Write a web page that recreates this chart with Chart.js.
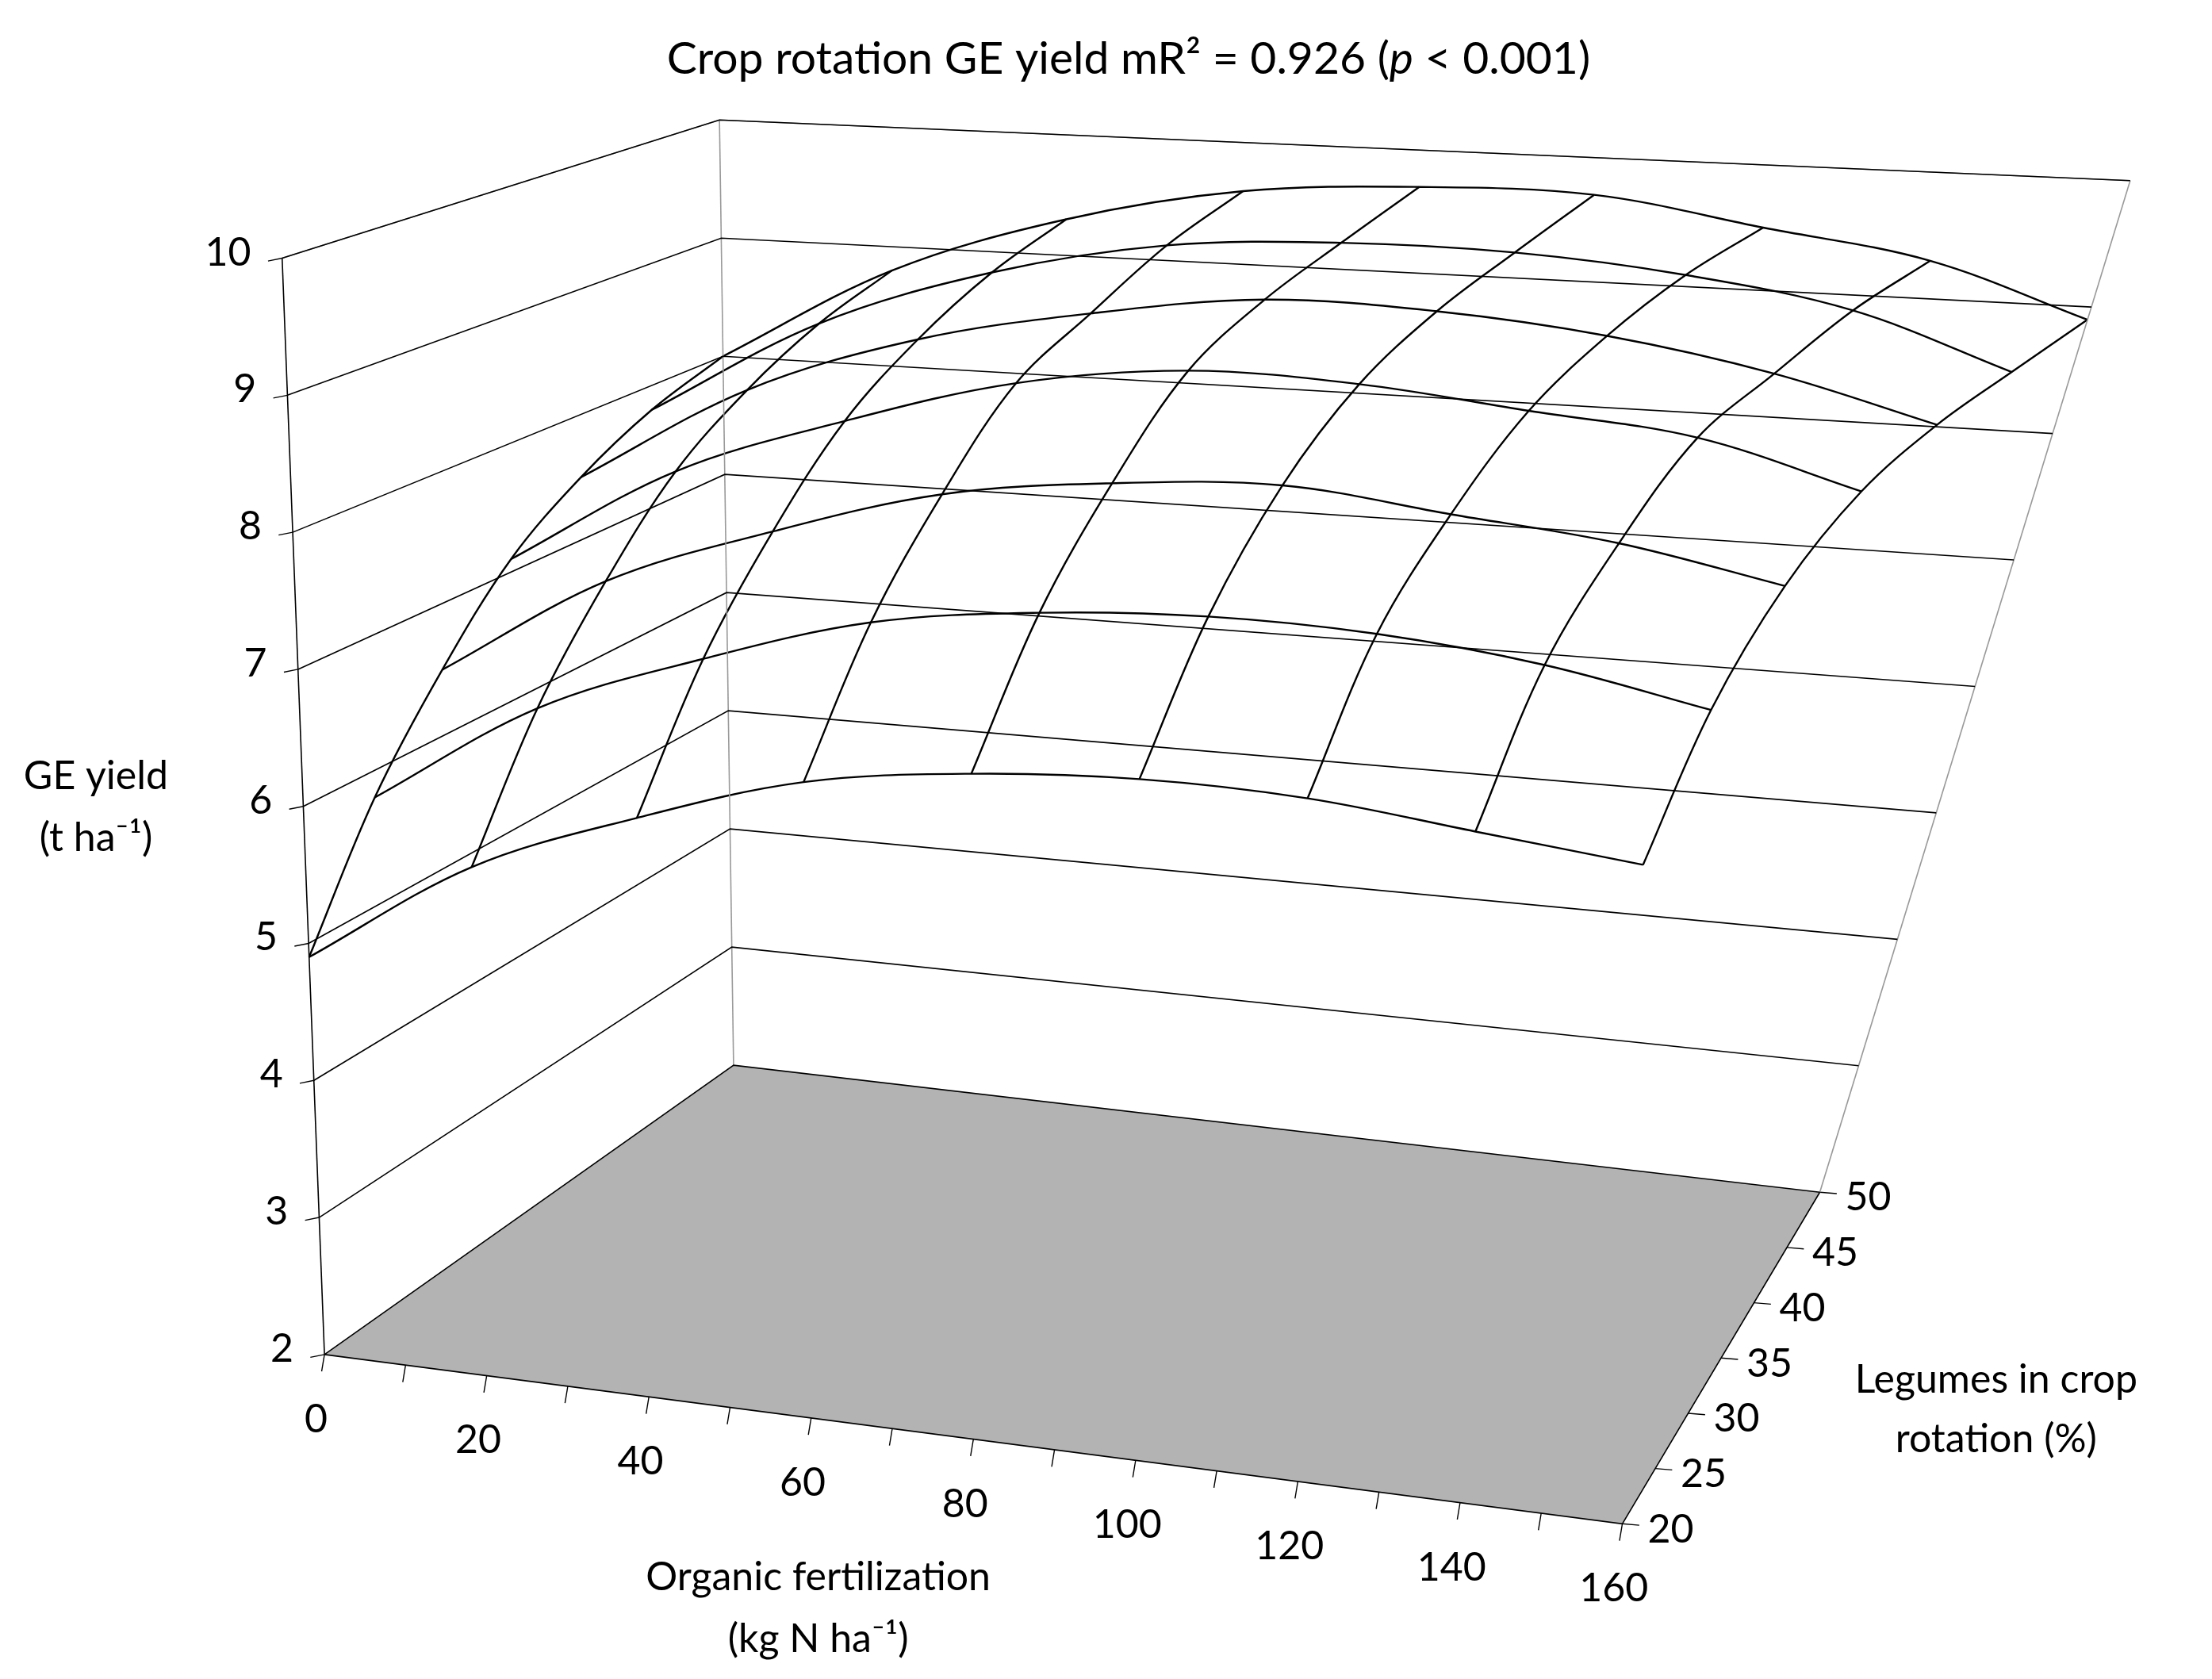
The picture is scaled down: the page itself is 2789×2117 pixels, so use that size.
<!DOCTYPE html>
<html>
<head>
<meta charset="utf-8">
<script src="https://cdn.jsdelivr.net/npm/chart.js@4"></script>
<style>
  html, body { margin: 0; padding: 0; background: #fff; }
  #wrap { width: 2789px; height: 2117px; }
</style>
</head>
<body>
<div id="wrap"><canvas id="grafico"></canvas></div>
<script>
// data
const fertilization = [0, 20, 40, 60, 80, 100, 120, 140, 160];
const legumes = [20, 25, 30, 35, 40, 45, 50];
// one row per legumes value, one column per fertilization value (t/ha)
const yieldRows = [
  [4.9, 5.7, 6.2, 6.6, 6.8, 6.9, 6.9, 6.8, 6.7],
  [5.8, 6.6, 7.1, 7.5, 7.7, 7.8, 7.8, 7.7, 7.5],
  [6.5, 7.3, 7.8, 8.2, 8.4, 8.5, 8.4, 8.3, 8.1],
  [7.1, 7.9, 8.4, 8.8, 9.0, 9.0, 8.9, 8.8, 8.5],
  [7.5, 8.3, 8.8, 9.1, 9.3, 9.3, 9.2, 9.0, 8.7],
  [7.8, 8.6, 9.1, 9.4, 9.5, 9.5, 9.4, 9.2, 8.8],
  [8.0, 8.8, 9.3, 9.6, 9.7, 9.7, 9.5, 9.3, 8.9],
];
const yieldTicks = [2, 3, 4, 5, 6, 7, 8, 9, 10];
const fertTicks = [0, 20, 40, 60, 80, 100, 120, 140, 160];
const fertMinor = [10, 30, 50, 70, 90, 110, 130, 150];
const legTicks = [20, 25, 30, 35, 40, 45, 50];

// box corners in layout units (1568 x 1190 space)
const W = 1568, H = 1190;
const box = {
  b00: [230, 960], b10: [1150, 1080], b01: [520, 755], b11: [1290, 845],
  t00: [200, 183], t10: [1175, 285], t01: [510, 85], t11: [1510, 128],
};

function bil(a, b, c, d, u, v) {
  const x = (1 - u) * (1 - v) * a[0] + u * (1 - v) * b[0] + (1 - u) * v * c[0] + u * v * d[0];
  const y = (1 - u) * (1 - v) * a[1] + u * (1 - v) * b[1] + (1 - u) * v * c[1] + u * v * d[1];
  return [x, y];
}
function proj(f, l, z) {
  const u = f / 160, v = (l - 20) / 30, t = (z - 2) / 8;
  const lo = bil(box.b00, box.b10, box.b01, box.b11, u, v);
  const hi = bil(box.t00, box.t10, box.t01, box.t11, u, v);
  return { x: lo[0] + (hi[0] - lo[0]) * t, y: lo[1] + (hi[1] - lo[1]) * t };
}

const datasets = [];
function linha(pts, cor, larg, tension) {
  datasets.push({
    data: pts, showLine: true, pointRadius: 0, borderColor: cor,
    borderWidth: larg, tension: tension || 0, fill: false,
  });
}

// walls: gridlines on left and back walls
yieldTicks.forEach((z) => {
  linha([proj(0, 20, z), proj(0, 50, z), proj(160, 50, z)], "#000", 1.6);
});
// wall edges
linha([proj(0, 20, 2), proj(0, 20, 10)], "#000", 1.6);
linha([proj(0, 50, 2), proj(0, 50, 10)], "#999", 1.6);
linha([proj(160, 50, 2), proj(160, 50, 10)], "#999", 1.6);
linha([proj(0, 20, 10), proj(0, 50, 10), proj(160, 50, 10)], "#999", 1.6);
// floor edges
linha([proj(0, 20, 2), proj(160, 20, 2), proj(160, 50, 2)], "#000", 1.6);
// tick marks
fertTicks.concat(fertMinor).forEach((f) => {
  const p = proj(f, 20, 2);
  linha([p, { x: p.x - 2, y: p.y + 12 }], "#000", 1.4);
});
legTicks.forEach((l) => {
  const p = proj(160, l, 2);
  linha([p, { x: p.x + 12, y: p.y + 1 }], "#000", 1.4);
});
yieldTicks.forEach((z) => {
  const p = proj(0, 20, z);
  linha([p, { x: p.x - 10, y: p.y + 2 }], "#000", 1.4);
});

// surface mesh
yieldRows.forEach((row, i) => {
  linha(row.map((z, j) => proj(fertilization[j], legumes[i], z)), "#000", 2.4, 0.35);
});
fertilization.forEach((f, j) => {
  linha(yieldRows.map((row, i) => proj(f, legumes[i], row[j])), "#000", 2.4, 0.35);
});

const chaoPlugin = {
  id: "chao",
  beforeDatasetsDraw(chart) {
    const xs = chart.scales.x, ys = chart.scales.y, ctx = chart.ctx;
    const pts = [proj(0, 20, 2), proj(160, 20, 2), proj(160, 50, 2), proj(0, 50, 2)];
    ctx.save();
    ctx.fillStyle = "#b3b3b3";
    ctx.beginPath();
    pts.forEach((p, i) => {
      const X = xs.getPixelForValue(p.x), Y = ys.getPixelForValue(p.y);
      i ? ctx.lineTo(X, Y) : ctx.moveTo(X, Y);
    });
    ctx.closePath();
    ctx.fill();
    ctx.restore();
  },
};

const textoPlugin = {
  id: "texto",
  afterDraw(chart) {
    const xs = chart.scales.x, ys = chart.scales.y, ctx = chart.ctx;
    const k = chart.width / W;
    const fam = "Lato, 'Liberation Sans', sans-serif";
    const P = (x, y) => [xs.getPixelForValue(x), ys.getPixelForValue(y)];
    function txt(s, x, y, size, align, style) {
      ctx.font = (style || "") + " " + Math.round(size * k) + "px " + fam;
      ctx.textAlign = align || "center";
      ctx.textBaseline = "middle";
      const q = P(x, y);
      ctx.fillText(s, q[0], q[1]);
    }
    ctx.save();
    ctx.fillStyle = "#000";

    // title with italic p
    const sz = 32 * k;
    const a = "Crop rotation GE yield mR\u00B2 = 0.926 (", b = "p", c = " < 0.001)";
    ctx.font = Math.round(sz) + "px " + fam;
    const wa = ctx.measureText(a).width, wc = ctx.measureText(c).width;
    ctx.font = "italic " + Math.round(sz) + "px " + fam;
    const wb = ctx.measureText(b).width;
    let [cx, cy] = P(800, 42);
    let x0 = cx - (wa + wb + wc) / 2;
    ctx.textAlign = "left";
    ctx.textBaseline = "middle";
    ctx.font = Math.round(sz) + "px " + fam;
    ctx.fillText(a, x0, cy);
    ctx.font = "italic " + Math.round(sz) + "px " + fam;
    ctx.fillText(b, x0 + wa, cy);
    ctx.font = Math.round(sz) + "px " + fam;
    ctx.fillText(c, x0 + wa + wb, cy);

    yieldTicks.forEach((z) => {
      const p = proj(0, 20, z);
      txt(String(z), p.x - 22, p.y - 4, 28, "right");
    });
    fertTicks.forEach((f) => {
      const p = proj(f, 20, 2);
      txt(String(f), p.x - 6, p.y + 46, 28, "center");
    });
    legTicks.forEach((l) => {
      const p = proj(160, l, 2);
      txt(String(l), p.x + 18, p.y + 4, 28, "left");
    });

    txt("GE yield", 68, 550, 28);
    txt("(t ha\u207B\u00B9)", 68, 594, 28);
    txt("Organic fertilization", 580, 1118, 28);
    txt("(kg N ha\u207B\u00B9)", 580, 1162, 28);
    txt("Legumes in crop", 1415, 978, 28);
    txt("rotation (%)", 1415, 1020, 28);
    ctx.restore();
  },
};

new Chart(document.getElementById("grafico"), {
  type: "scatter",
  data: { datasets },
  options: {
    responsive: true,
    maintainAspectRatio: false,
    animation: false,
    layout: { padding: 0 },
    plugins: { legend: { display: false }, tooltip: { enabled: false } },
    scales: {
      x: { type: "linear", min: 0, max: W, display: false },
      y: { type: "linear", min: 0, max: H, reverse: true, display: false },
    },
  },
  plugins: [chaoPlugin, textoPlugin],
});
</script>
</body>
</html>
